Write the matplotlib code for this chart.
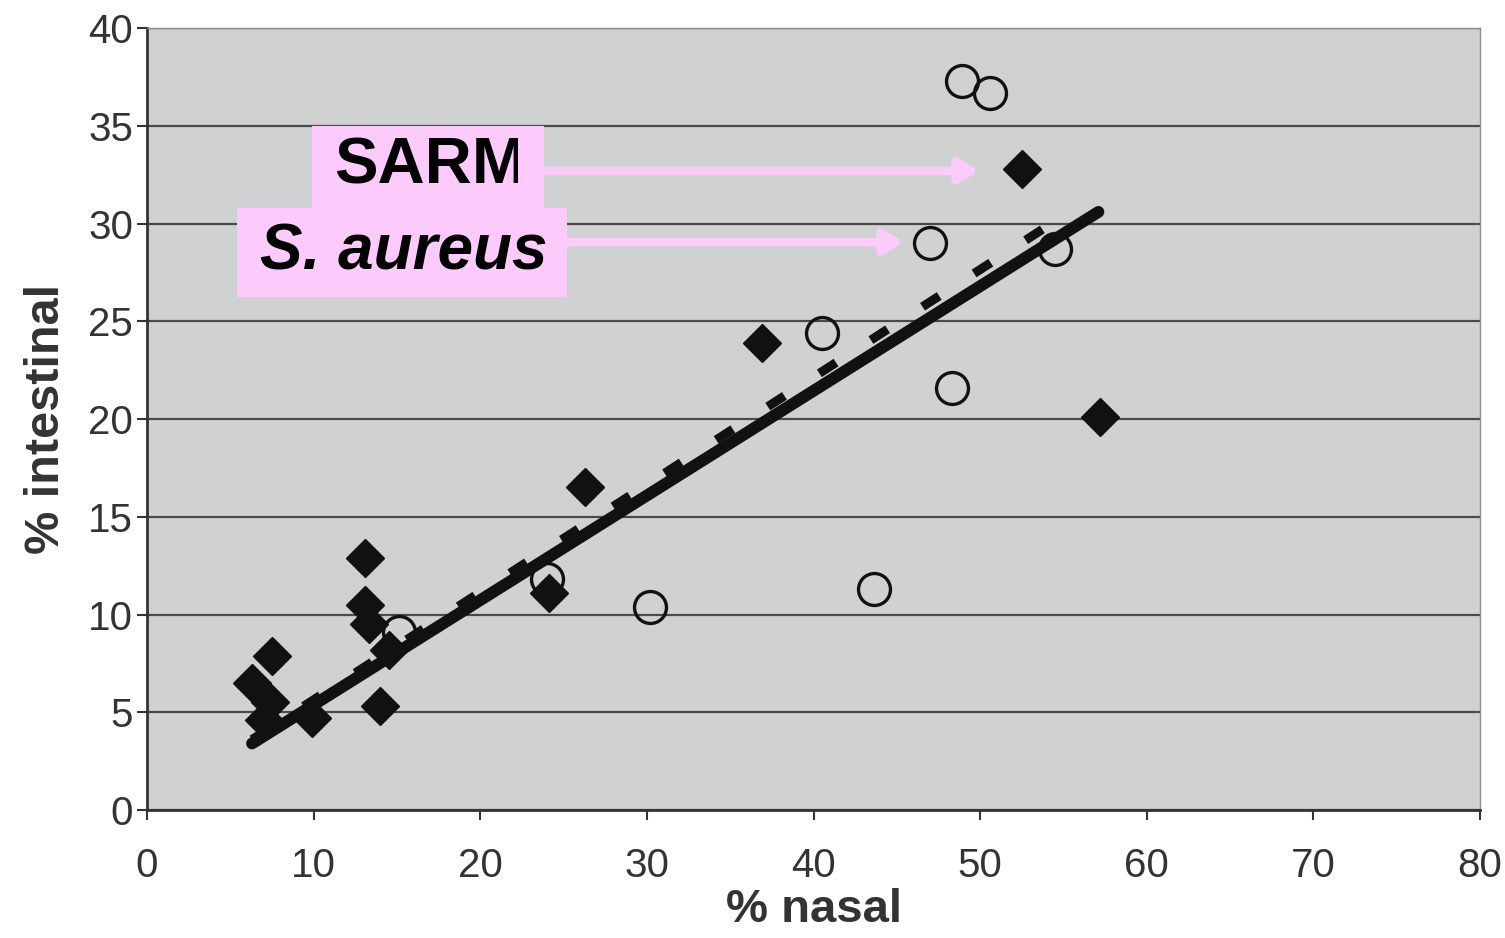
import matplotlib
matplotlib.use("Agg")
import matplotlib.pyplot as plt
from matplotlib.patches import Rectangle

plt.rcParams['font.family'] = ['Liberation Sans', 'DejaVu Sans']

# filled diamonds (SARM)
sarm_x = [6.3, 7.5, 7.4, 7.0, 9.9, 13.1, 13.1, 13.3, 14.0, 14.5, 24.1, 26.3, 36.9, 52.5, 57.2]
sarm_y = [6.5, 7.9, 5.5, 4.6, 4.7, 12.9, 10.5, 9.5, 5.3, 8.2, 11.1, 16.5, 23.9, 32.8, 20.1]

# open circles (S. aureus)
aureus_x = [15.1, 24.0, 30.2, 40.5, 43.6, 47.0, 48.3, 48.9, 50.6, 54.5]
aureus_y = [9.1, 11.8, 10.4, 24.4, 11.3, 29.0, 21.6, 37.3, 36.7, 28.7]

# trend lines, end points
solid_x = [6.3, 57.1]
solid_y = [3.4, 30.6]
dashed_x = [6.3, 55.0]
dashed_y = [3.6, 30.4]

xticks = [0, 10, 20, 30, 40, 50, 60, 70, 80]
yticks = [0, 5, 10, 15, 20, 25, 30, 35, 40]

PINK = '#fccbfc'

fig = plt.figure(figsize=(15.05, 9.38), dpi=100)
ax = fig.add_axes([0.0977, 0.1365, 0.8857, 0.8335])
ax.set_facecolor('#cfd2d1')

ax.set_xlim(0, 80)
ax.set_ylim(0, 40)
ax.set_xticks(xticks)
ax.set_yticks(yticks)
ax.yaxis.grid(True, color='#4a4a4a', linewidth=1.6)
ax.set_axisbelow(True)
ax.tick_params(axis='both', labelsize=29, colors='#333333', length=7, width=1.5)
ax.tick_params(axis='x', pad=20)
ax.tick_params(axis='y', pad=3)
for side in ['left', 'bottom']:
    ax.spines[side].set_color('#333333')
    ax.spines[side].set_linewidth(2)
for side in ['top', 'right']:
    ax.spines[side].set_color('#8a8a8a')
    ax.spines[side].set_linewidth(1)

ax.set_xlabel('% nasal', fontsize=34, fontweight='bold', color='#333333', labelpad=2)
ax.set_ylabel('% intestinal', fontsize=35, fontweight='bold', color='#333333', labelpad=14)

# trend lines
ax.plot(dashed_x, dashed_y, color='#111111', linewidth=6.5, dashes=(2.2, 4.6),
        solid_capstyle='butt', dash_capstyle='butt', zorder=3)
ax.plot(solid_x, solid_y, color='#111111', linewidth=8.5, solid_capstyle='round', zorder=4)

# points
ax.plot(aureus_x, aureus_y, 'o', markersize=23, markerfacecolor='none',
        markeredgecolor='#111111', markeredgewidth=2.4, zorder=5)
ax.plot(sarm_x, sarm_y, 'D', markersize=19.5, color='#111111', zorder=6)

# label boxes with arrows
ax.add_patch(Rectangle((9.9, 30.8), 13.9, 4.2, facecolor=PINK, edgecolor='none', zorder=7))
ax.add_patch(Rectangle((5.4, 26.25), 19.8, 4.55, facecolor=PINK, edgecolor='none', zorder=7))

# the SARM word is cut off at the right in the original
clip = Rectangle((9.9, 30.8), 12.35, 4.2, transform=ax.transData)
t = ax.text(11.2, 32.9, 'SARM', fontsize=47, fontweight='bold', va='center', ha='left',
            color='black', zorder=8, clip_on=True)
t.set_clip_path(clip)
ax.text(6.8, 28.5, 'S. aureus', fontsize=46, fontweight='bold', fontstyle='italic',
        va='center', ha='left', color='black', zorder=8)

arrow_kw = dict(arrowstyle='-|>,head_length=1.1,head_width=0.7', color=PINK, lw=6,
                shrinkA=0, shrinkB=0)
ax.annotate('', xy=(49.9, 32.7), xytext=(23.8, 32.7), arrowprops=arrow_kw, zorder=7)
ax.annotate('', xy=(45.4, 29.05), xytext=(25.2, 29.05), arrowprops=arrow_kw, zorder=7)

fig.savefig('out.png', dpi=100)
